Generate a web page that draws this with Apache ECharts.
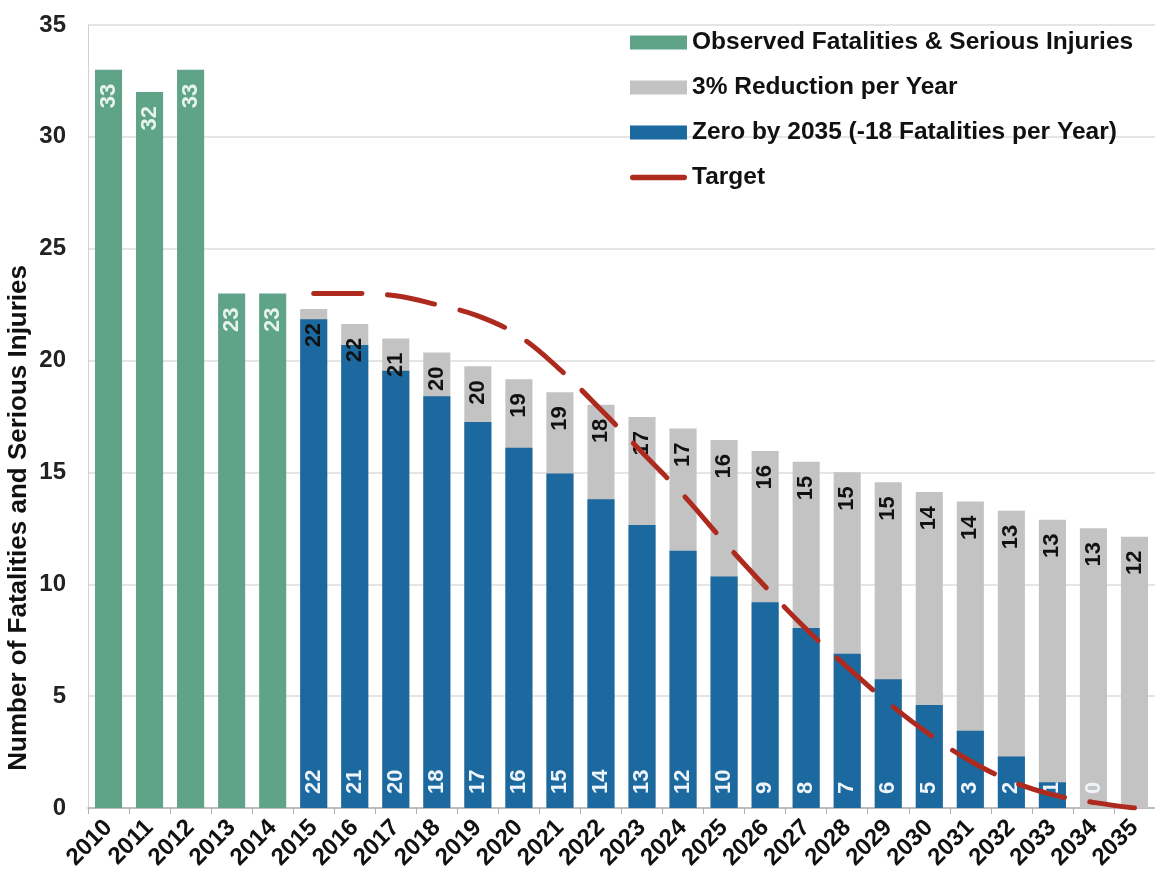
<!DOCTYPE html>
<html>
<head>
<meta charset="utf-8">
<script src="https://cdn.jsdelivr.net/npm/echarts@6/dist/echarts.min.js"></script>
<style>
  html, body { margin: 0; padding: 0; background: #fff; }
  #chart-container { width: 1155px; height: 882px; }
</style>
</head>
<body>
<div id="chart-container"></div>
<script>
var years = ['2010','2011','2012','2013','2014','2015','2016','2017','2018','2019','2020','2021','2022',
             '2023','2024','2025','2026','2027','2028','2029','2030','2031','2032','2033','2034','2035'];

var observed = [33, 32, 33, 23, 23];
var reduction3 = [22.31, 21.64, 20.99, 20.36, 19.75, 19.16, 18.58, 18.03, 17.48, 16.96, 16.45,
                  15.96, 15.48, 15.01, 14.56, 14.13, 13.70, 13.29, 12.89, 12.51, 12.13];
var zeroBy2035 = [21.85, 20.7, 19.55, 18.4, 17.25, 16.1, 14.95, 13.8, 12.65, 11.5, 10.35,
                  9.2, 8.05, 6.9, 5.75, 4.6, 3.45, 2.3, 1.15, 0];
var target = [23.0, 23.0, 22.9, 22.5, 22.0, 21.1, 19.6, 17.8, 15.9, 14.0, 11.9,
              9.9, 8.0, 6.3, 4.7, 3.3, 2.1, 1.2, 0.6, 0.25, 0];

var font = 'Liberation Sans, Arial, sans-serif';

// pad the series so they line up with the 2010-2035 categories
function pad(arr, before, total) {
    var out = [];
    for (var i = 0; i < total; i++) {
        var j = i - before;
        out.push(j >= 0 && j < arr.length ? arr[j] : '-');
    }
    return out;
}
var n = years.length;
var round = function (p) { return Math.round(p.value); };

var dom = document.getElementById('chart-container');
var myChart = echarts.init(dom, null, { renderer: 'canvas' });

var option = {
    animation: false,
    textStyle: { fontFamily: font },
    grid: { left: 88, top: 25, width: 1071, bottom: 74, containLabel: false },
    legend: {
        orient: 'vertical',
        left: 625,
        top: 25,
        itemWidth: 57,
        itemHeight: 14,
        itemGap: 20,
        textStyle: { fontFamily: font, fontSize: 24.5, lineHeight: 24, fontWeight: 'bold', color: '#111' },
        data: [
            { name: 'Observed Fatalities & Serious Injuries', icon: 'rect' },
            { name: '3% Reduction per Year', icon: 'rect' },
            { name: 'Zero by 2035 (-18 Fatalities per Year)', icon: 'rect' },
            { name: 'Target', icon: 'path://M2,0 L58,0 A3,3 0 0 1 58,6 L2,6 A3,3 0 0 1 2,0 Z' }
        ]
    },
    graphic: [{
        type: 'text',
        left: 6,
        top: 265,
        rotation: Math.PI / 2,
        style: {
            text: 'Number of Fatalities and Serious Injuries',
            font: 'bold 26px ' + font,
            fill: '#111'
        }
    }],
    xAxis: {
        type: 'category',
        data: years,
        axisLine: { lineStyle: { color: '#b0b0b0', width: 1.5 } },
        axisTick: { show: true, lineStyle: { color: '#b0b0b0' }, length: 6 },
        axisLabel: {
            interval: 0, rotate: 45, margin: 16,
            fontFamily: font, fontSize: 24, fontWeight: 'bold', color: '#111'
        }
    },
    yAxis: {
        type: 'value',
        min: 0, max: 35, interval: 5,
        axisLine: { show: true, lineStyle: { color: '#d0d0d0' } },
        axisTick: { show: false },
        splitLine: { lineStyle: { color: '#dcdcdc', width: 1.5 } },
        axisLabel: {
            margin: 22, fontFamily: font, fontSize: 24, fontWeight: 'bold', color: '#222'
        }
    },
    series: [
        {
            name: 'Observed Fatalities & Serious Injuries',
            type: 'bar',
            data: pad(observed, 0, n),
            barGap: '-100%',
            barCategoryGap: '34%',
            itemStyle: { color: '#5fa389' },
            label: {
                show: true, position: 'insideTop', rotate: 90, align: 'right', verticalAlign: 'middle',
                distance: 14, color: '#e6f4ec', fontSize: 22, fontWeight: 'bold', fontFamily: font,
                formatter: round
            }
        },
        {
            name: '3% Reduction per Year',
            type: 'bar',
            data: pad(reduction3, 5, n),
            barGap: '-100%',
            barCategoryGap: '34%',
            itemStyle: { color: '#c3c3c3' },
            label: {
                show: true, position: 'insideTop', rotate: 90, align: 'right', verticalAlign: 'middle',
                distance: 14, color: '#111', fontSize: 22, fontWeight: 'bold', fontFamily: font,
                formatter: round
            }
        },
        {
            name: 'Zero by 2035 (-18 Fatalities per Year)',
            type: 'bar',
            data: pad(zeroBy2035, 5, n),
            barGap: '-100%',
            barCategoryGap: '34%',
            itemStyle: { color: '#1b699e' },
            label: {
                show: true, position: 'insideBottom', rotate: 90, align: 'left', verticalAlign: 'middle',
                distance: 14, color: '#eef4fa', fontSize: 22, fontWeight: 'bold', fontFamily: font,
                formatter: round
            }
        },
        {
            name: 'Target',
            type: 'line',
            data: pad(target, 5, n),
            smooth: 0.4,
            symbol: 'none',
            showSymbol: false,
            z: 5,
            lineStyle: { color: '#ae2a1e', width: 5, type: [48, 26], cap: 'round' },
            itemStyle: { color: '#ae2a1e' }
        }
    ]
};

myChart.setOption(option);
window.addEventListener('resize', myChart.resize);
</script>
</body>
</html>
